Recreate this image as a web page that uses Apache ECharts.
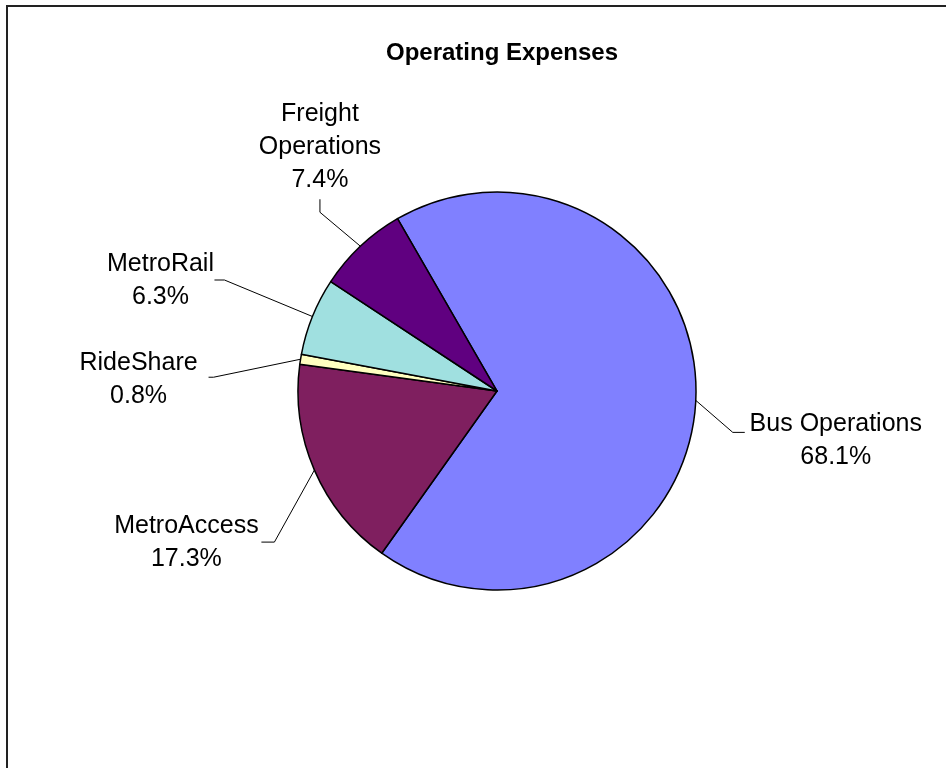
<!DOCTYPE html>
<html>
<head>
<meta charset="utf-8">
<script src="https://cdn.jsdelivr.net/npm/echarts@6/dist/echarts.min.js"></script>
<style>
html, body { margin: 0; padding: 0; background: #ffffff; }
#chart { width: 946px; height: 768px; }
</style>
</head>
<body>
<div id="chart"></div>
<script>
// ---- data ----
const categories = ['Bus Operations', 'MetroAccess', 'RideShare', 'MetroRail', 'Freight Operations'];
const shares = [68.1, 17.3, 0.8, 6.3, 7.4];
const labelNames = ['Bus Operations', 'MetroAccess', 'RideShare', 'MetroRail', 'Freight\nOperations'];

// ---- style ----
const sliceColors = ['#8080FF', '#7F1F5F', '#FFFFC0', '#A0E0E0', '#600080'];
// label centre, relative to the point where the leader line leaves the slice
const labelOffsets = [[140, 40], [-128, 72.5], [-162, 20], [-152, -35.5], [-40.5, -99.5]];
// leader line bend / end, relative to the label centre
const leaderShapes = [
  [[-103, -8], [-91, -8]],
  [[88, -0.5], [75, -0.5]],
  [[75, -2], [70, -2]],
  [[64, -1], [54, -1]],
  [[0, 65.5], [0, 52.5]]
];
const FONT = '"Liberation Sans", Arial, Helvetica, sans-serif';

const chart = echarts.init(document.getElementById('chart'), null, { renderer: 'canvas' });

const pieData = categories.map((name, i) => ({
  name: name,
  value: shares[i],
  itemStyle: { color: sliceColors[i] }
}));

chart.setOption({
  animation: false,
  backgroundColor: '#ffffff',
  title: {
    text: 'Operating Expenses',
    left: 497,
    textAlign: 'center',
    top: 36,
    textStyle: { fontFamily: FONT, fontSize: 24, fontWeight: 'bold', color: '#000' }
  },
  graphic: [{
    type: 'rect',
    shape: { x: 7, y: 6, width: 1200, height: 1200 },
    style: { fill: 'none', stroke: '#222', lineWidth: 2 },
    silent: true,
    z: 10
  }],
  series: [{
    type: 'pie',
    center: [497, 391],
    radius: 199,
    startAngle: 120,
    clockwise: true,
    avoidLabelOverlap: false,
    data: pieData,
    itemStyle: { borderColor: '#000', borderWidth: 1.5 },
    emphasis: { disabled: true },
    label: {
      show: true,
      position: 'outside',
      color: '#000',
      fontFamily: FONT,
      fontSize: 25,
      lineHeight: 33,
      formatter: function (p) {
        return labelNames[p.dataIndex] + '\n' + p.value.toFixed(1) + '%';
      }
    },
    labelLine: {
      show: true,
      length: 10,
      length2: 10,
      smooth: false,
      lineStyle: { color: '#000', width: 1 }
    },
    labelLayout: function (params) {
      const i = params.dataIndex;
      const pts = params.labelLinePoints;
      if (!pts || !pts.length) return {};
      const e = pts[0];
      const cx = e[0] + labelOffsets[i][0];
      const cy = e[1] + labelOffsets[i][1];
      const sh = leaderShapes[i];
      return {
        x: cx,
        y: cy,
        align: 'center',
        verticalAlign: 'middle',
        labelLinePoints: [
          [e[0], e[1]],
          [cx + sh[0][0], cy + sh[0][1]],
          [cx + sh[1][0], cy + sh[1][1]]
        ]
      };
    }
  }]
});
</script>
</body>
</html>
